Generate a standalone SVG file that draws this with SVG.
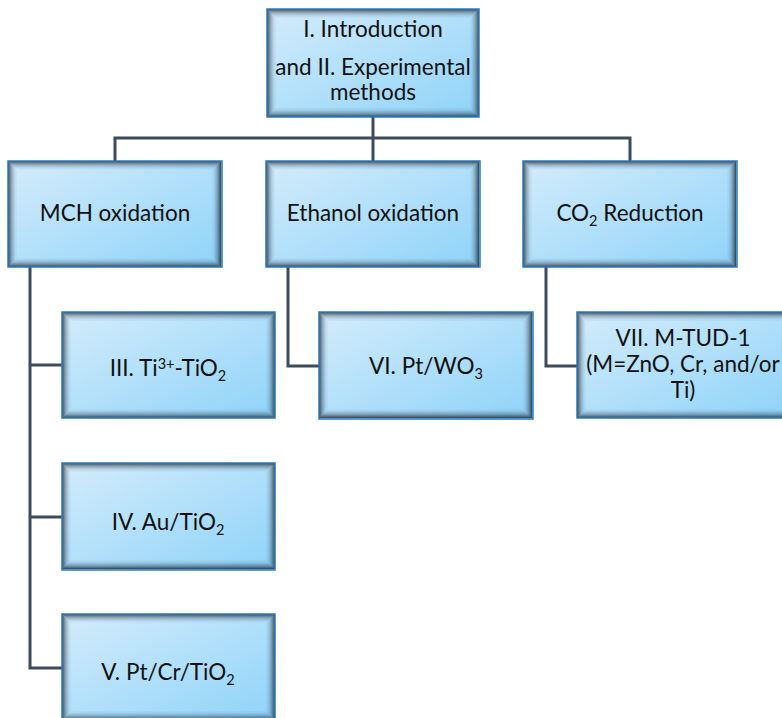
<svg xmlns="http://www.w3.org/2000/svg" width="782" height="718" viewBox="0 0 782 718">
<defs>
<linearGradient id="fillG" x1="0" y1="0" x2="1" y2="1">
<stop offset="0" stop-color="#d4ecfb"/>
<stop offset="1" stop-color="#8ed3f9"/>
</linearGradient>
<g id="shade" fill="none" stroke="#1e2c3a">
<rect x="0.5" y="0.5" width="212" height="105" stroke-opacity="0.78"/>
<rect x="1.5" y="1.5" width="210" height="103" stroke-opacity="0.62"/>
<rect x="2.5" y="2.5" width="208" height="101" stroke-opacity="0.48"/>
<rect x="3.5" y="3.5" width="206" height="99" stroke-opacity="0.36"/>
<rect x="4.5" y="4.5" width="204" height="97" stroke-opacity="0.26"/>
<rect x="5.5" y="5.5" width="202" height="95" stroke-opacity="0.18"/>
<rect x="6.5" y="6.5" width="200" height="93" stroke-opacity="0.11"/>
<rect x="7.5" y="7.5" width="198" height="91" stroke-opacity="0.06"/>
<rect x="8.5" y="8.5" width="196" height="89" stroke-opacity="0.03"/>
</g>
</defs>
<style>
.box{fill:url(#fillG);}
.edge{fill:none;stroke:#2e78b8;stroke-width:1.5;}
.t{font-family:Lato,"Liberation Sans",sans-serif;font-size:22.5px;fill:#111;text-anchor:middle;}
.s{font-size:14.5px;}
.conn{fill:none;stroke:#3d4b5c;stroke-width:3;}
</style>
<rect width="782" height="718" fill="#fff"/>
<g id="connectors">
<polyline class="conn" points="373,117 373,138"/>
<polyline class="conn" points="115,161 115,138 630,138 630,161"/>
<polyline class="conn" points="373,138 373,161"/>
<polyline class="conn" points="30,267 30,668 62,668"/>
<polyline class="conn" points="30,365 62,365"/>
<polyline class="conn" points="30,517 62,517"/>
<polyline class="conn" points="288,267 288,366 319,366"/>
<polyline class="conn" points="546,267 546,366 577,366"/>
</g>
<g id="intro">
<rect class="box" x="267" y="9" width="212" height="108"/>
<use href="#shade" transform="translate(267,9) scale(0.995,1.019)"/>
<rect class="edge" x="267" y="9" width="212" height="108"/>
<text class="t" x="373" y="37">I. Introduction</text>
<text class="t" x="373" y="75">and II. Experimental</text>
<text class="t" x="373" y="100">methods</text>
</g>
<g id="mch">
<rect class="box" x="8" y="161" width="214" height="106"/>
<use href="#shade" transform="translate(8,161)"/>
<rect class="edge" x="8" y="161" width="214" height="106"/>
<text class="t" x="115" y="221">MCH oxidation</text>
</g>
<g id="ethanol">
<rect class="box" x="266" y="161" width="214" height="106"/>
<use href="#shade" transform="translate(266,161)"/>
<rect class="edge" x="266" y="161" width="214" height="106"/>
<text class="t" x="373" y="221">Ethanol oxidation</text>
</g>
<g id="co2">
<rect class="box" x="523" y="161" width="214" height="106"/>
<use href="#shade" transform="translate(523,161)"/>
<rect class="edge" x="523" y="161" width="214" height="106"/>
<text class="t" x="630" y="221">CO<tspan class="s" dy="5">2</tspan><tspan dy="-5"> Reduction</tspan></text>
</g>
<g id="ti3">
<rect class="box" x="62" y="312" width="213" height="106"/>
<use href="#shade" transform="translate(62,312)"/>
<rect class="edge" x="62" y="312" width="213" height="106"/>
<text class="t" x="168" y="376">III. Ti<tspan class="s" dy="-7">3+</tspan><tspan dy="7">-TiO</tspan><tspan class="s" dy="5">2</tspan></text>
</g>
<g id="au">
<rect class="box" x="62" y="463" width="213" height="107"/>
<use href="#shade" transform="translate(62,463)"/>
<rect class="edge" x="62" y="463" width="213" height="107"/>
<text class="t" x="168" y="530">IV. Au/TiO<tspan class="s" dy="5">2</tspan></text>
</g>
<g id="ptcr">
<rect class="box" x="62" y="614" width="213" height="106"/>
<use href="#shade" transform="translate(62,614)"/>
<rect class="edge" x="62" y="614" width="213" height="106"/>
<text class="t" x="168" y="680">V. Pt/Cr/TiO<tspan class="s" dy="5">2</tspan></text>
</g>
<g id="ptwo3">
<rect class="box" x="319" y="312" width="214" height="107"/>
<use href="#shade" transform="translate(319,312)"/>
<rect class="edge" x="319" y="312" width="214" height="107"/>
<text class="t" x="426" y="374">VI. Pt/WO<tspan class="s" dy="5">3</tspan></text>
</g>
<g id="tud">
<rect class="box" x="577" y="312" width="213" height="106"/>
<use href="#shade" transform="translate(577,312)"/>
<rect class="edge" x="577" y="312" width="213" height="106"/>
<text class="t" x="683" y="346">VII. M-TUD-1</text>
<text class="t" x="683" y="372">(M=ZnO, Cr, and/or</text>
<text class="t" x="683" y="398">Ti)</text>
</g>
</svg>
